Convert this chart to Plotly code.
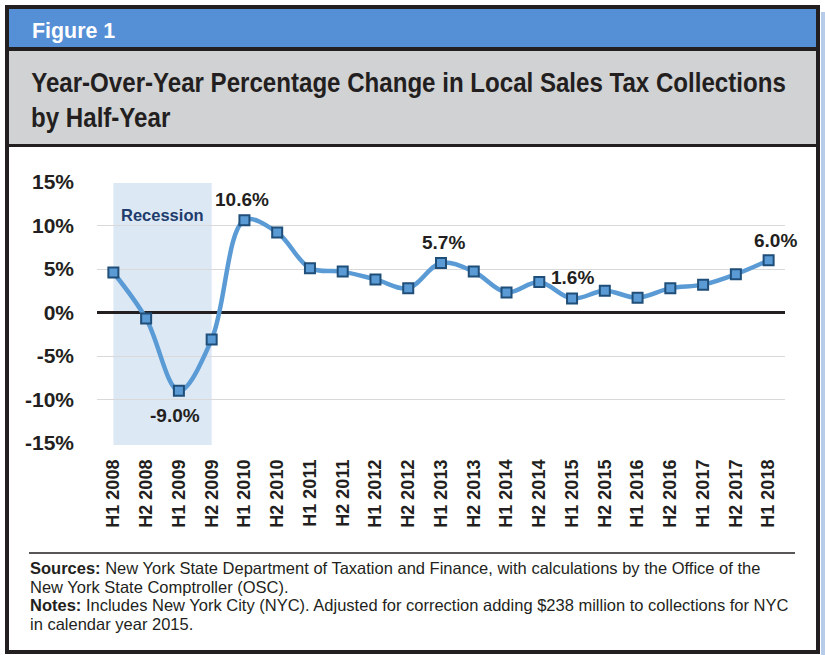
import plotly.graph_objects as go

W, H = 825, 655

categories = ["H1 2008", "H2 2008", "H1 2009", "H2 2009", "H1 2010", "H2 2010",
              "H1 2011", "H2 2011", "H1 2012", "H2 2012", "H1 2013", "H2 2013",
              "H1 2014", "H2 2014", "H1 2015", "H2 2015", "H1 2016", "H2 2016",
              "H1 2017", "H2 2017", "H1 2018"]
values = [4.6, -0.7, -9.0, -3.1, 10.6, 9.2,
          5.1, 4.7, 3.8, 2.8, 5.7, 4.7,
          2.3, 3.5, 1.6, 2.5, 1.7, 2.8,
          3.2, 4.4, 6.0]
y_ticks = [-15, -10, -5, 0, 5, 10, 15]
y_tick_labels = ["-15%", "-10%", "-5%", "0%", "5%", "10%", "15%"]
labelled = {"H1 2010": "10.6%", "H1 2009": "-9.0%", "H1 2013": "5.7%",
            "H1 2015": "1.6%", "H1 2018": "6.0%"}
recession = ("H1 2008", "H2 2009")

SANS = "Liberation Sans, Arial, Helvetica, sans-serif"
DARK = "#231F20"

def py(p):
    return 1 - p / H

def px(p):
    return p / W

fig = go.Figure()
fig.add_trace(go.Scatter(
    x=categories, y=values, mode="lines+markers",
    line=dict(color="#5B9BD5", width=4.5, shape="spline", smoothing=1.0),
    marker=dict(symbol="square", size=10, color="#5B9BD5",
                line=dict(color="#1F4E79", width=2)),
    hoverinfo="x+y", showlegend=False, cliponaxis=False,
))

shapes = []
shapes.append(dict(type="rect", xref="x", yref="paper",
                   x0=categories.index(recession[0]), x1=categories.index(recession[1]),
                   y0=py(445), y1=py(183), fillcolor="#DDE8F5", line=dict(width=0),
                   layer="below"))
shapes.append(dict(type="rect", xref="paper", yref="paper", x0=px(821), x1=px(826),
                   y0=py(656), y1=py(12), fillcolor="#B7CCE8", line=dict(width=0)))
shapes.append(dict(type="rect", xref="paper", yref="paper", x0=px(9), x1=px(816),
                   y0=py(48), y1=py(9), fillcolor="#558FD6", line=dict(width=0)))
shapes.append(dict(type="rect", xref="paper", yref="paper", x0=px(9), x1=px(816),
                   y0=py(144), y1=py(50), fillcolor="#D1D2D4", line=dict(width=0)))
shapes.append(dict(type="line", xref="paper", yref="paper", x0=px(7), x1=px(818),
                   y0=py(49), y1=py(49), line=dict(color=DARK, width=4)))
shapes.append(dict(type="line", xref="paper", yref="paper", x0=px(7), x1=px(818),
                   y0=py(145.5), y1=py(145.5), line=dict(color=DARK, width=3)))
shapes.append(dict(type="rect", xref="paper", yref="paper", x0=px(7), x1=px(818),
                   y0=py(652), y1=py(7), line=dict(color=DARK, width=4)))
shapes.append(dict(type="line", xref="paper", yref="paper", x0=px(29), x1=px(795),
                   y0=py(553), y1=py(553), line=dict(color=DARK, width=1.5)))

ann = []
ann.append(dict(text="Figure 1", xref="paper", yref="paper", x=px(30), y=py(30),
                xanchor="left", yanchor="middle", showarrow=False,
                font=dict(family=SANS, size=23, color="white", weight="bold")))
ann.append(dict(text="Year-Over-Year Percentage Change in Local Sales Tax Collections",
                xref="paper", yref="paper", x=px(29), y=py(83), xanchor="left",
                yanchor="middle", showarrow=False,
                font=dict(family=SANS, size=28, color=DARK, weight="bold")))
ann.append(dict(text="by Half-Year", xref="paper", yref="paper", x=px(29), y=py(118),
                xanchor="left", yanchor="middle", showarrow=False,
                font=dict(family=SANS, size=28, color=DARK, weight="bold")))
ann.append(dict(text="Recession", xref="x", yref="paper", x=1.5, y=py(215),
                xanchor="center", yanchor="middle", showarrow=False,
                font=dict(family=SANS, size=16.5, color="#203C6C", weight="bold")))

offsets = {"H1 2010": (-2, 21), "H1 2009": (-4, -25), "H1 2013": (2, 20),
           "H1 2015": (0, 21), "H1 2018": (7, 20)}
for cat, txt in labelled.items():
    v = values[categories.index(cat)]
    dx, dy = offsets[cat]
    ann.append(dict(text=txt, xref="x", yref="y", x=cat, y=v,
                    xshift=dx, yshift=dy, xanchor="center", yanchor="middle",
                    showarrow=False,
                    font=dict(family=SANS, size=19, color=DARK, weight="bold")))

footer = [
    ("<b>Sources:</b> New York State Department of Taxation and Finance, with calculations by the Office of the", 568),
    ("New York State Comptroller (OSC).", 587),
    ("<b>Notes:</b> Includes New York City (NYC). Adjusted for correction adding $238 million to collections for NYC", 605),
    ("in calendar year 2015.", 624),
]
for t, yy in footer:
    ann.append(dict(text=t, xref="paper", yref="paper", x=px(28), y=py(yy),
                    xanchor="left", yanchor="middle", showarrow=False,
                    font=dict(family=SANS, size=16.5, color=DARK)))

fig.update_layout(
    template="none",
    width=W, height=H, margin=dict(l=0, r=0, t=0, b=0, pad=0, autoexpand=False),
    paper_bgcolor="white", plot_bgcolor="rgba(0,0,0,0)",
    shapes=shapes, annotations=ann, hovermode="closest",
    xaxis=dict(domain=[px(97), px(785)], range=[-0.5, len(categories) - 0.5],
               type="category", tickangle=-90, showgrid=False, showline=False,
               ticks="", ticklabelstandoff=12, automargin=False, zeroline=False,
               tickfont=dict(family=SANS, size=18, color=DARK, weight="bold")),
    yaxis=dict(domain=[py(443), py(182)], range=[-15, 15], tickvals=y_ticks,
               ticktext=y_tick_labels, automargin=False,
               showgrid=True, gridcolor="#D9D9D9", gridwidth=1.3,
               zeroline=True, zerolinecolor=DARK, zerolinewidth=3,
               showline=False, ticks="", ticklabelstandoff=22,
               tickfont=dict(family=SANS, size=21, color=DARK, weight="bold")),
)

# The reference headings use a condensed face; compress them horizontally,
# keeping each text's left edge fixed.
post = """
var gd = document.getElementById('{plot_id}');
var texts = gd.querySelectorAll('text.annotation-text');
var title = null;
texts.forEach(function(t){ if (t.textContent.indexOf('Year-Over-Year') === 0) title = t; });
var f = title ? 755 / title.getBBox().width : 1;
function squeeze(t, sx){
  var bx = t.getBBox().x;
  var tx = bx * (1 - sx);
  t.setAttribute('transform', 'translate(' + tx + ',0) scale(' + sx + ',1)');
}
texts.forEach(function(t){
  var s = t.textContent;
  if (s.indexOf('Year-Over-Year') === 0 || s === 'by Half-Year') squeeze(t, f);
  else if (s === 'Figure 1') squeeze(t, 0.93);
});
"""

fig.write_html("out.html", post_script=post)
